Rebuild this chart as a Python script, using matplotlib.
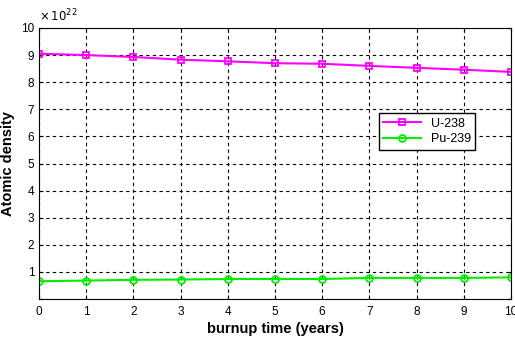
import numpy as np
import matplotlib.pyplot as plt
from matplotlib.ticker import ScalarFormatter

plt.rcParams['font.family'] = ['Liberation Sans', 'DejaVu Sans']

# burnup time (years)
years = np.arange(0, 11)
# atomic densities (atoms/cm^3)
u238 = np.array([9.05, 9.00, 8.93, 8.83, 8.77, 8.70, 8.68, 8.60, 8.53, 8.46, 8.38]) * 1e22
pu239 = np.array([0.66, 0.68, 0.71, 0.72, 0.74, 0.74, 0.74, 0.78, 0.78, 0.78, 0.80]) * 1e22
ytick_labels = ['', '1', '2', '3', '4', '5', '6', '7', '8', '9', '10']

fig = plt.figure(figsize=(5.15, 3.41), dpi=100)
ax = fig.add_axes([0.076, 0.123, 0.916, 0.795])

ax.plot(years, u238, color='#ff00ff', lw=1.5, marker='s', ms=5, mfc='none', mew=1.3, label='U-238')
ax.plot(years, pu239, color='#00ee00', lw=1.5, marker='o', ms=5, mfc='none', mew=1.3, label='Pu-239')

ax.set_xlim(0, 10)
ax.set_ylim(0, 1e23)
ax.set_xticks(years)
ax.set_yticks(np.arange(0, 11) * 1e22)
fmt = ScalarFormatter(useMathText=True)
fmt.set_powerlimits((22, 22))
ax.yaxis.set_major_formatter(fmt)
ax.set_yticklabels(ytick_labels)
ax.text(0.0, 1.015, r'$\times\,10^{22}$', transform=ax.transAxes, fontsize=8.5, va='bottom')

ax.grid(True, color='black', ls=(0, (3, 3)), lw=0.8)
ax.tick_params(direction='in', labelsize=8.5, length=3, top=True, right=True)
ax.tick_params(axis='x', pad=5)

ax.set_xlabel('burnup time (years)', fontsize=10.5, fontweight='bold', labelpad=3)
ax.set_ylabel('Atomic density', fontsize=10.5, fontweight='bold', labelpad=4)

ax.legend(loc='upper left', bbox_to_anchor=(0.72, 0.685), fontsize=9, fancybox=False,
          edgecolor='black', framealpha=1, borderaxespad=0, handlelength=3,
          borderpad=0.35, labelspacing=0.3)

fig.savefig('out.png', dpi=100)
